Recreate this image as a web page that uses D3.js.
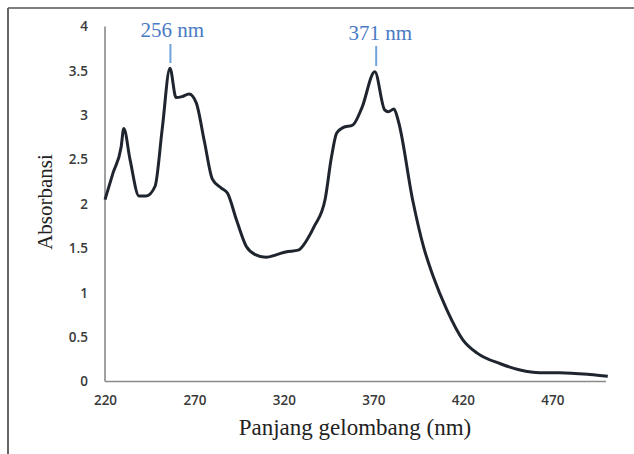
<!DOCTYPE html>
<html><head><meta charset="utf-8">
<script src="https://cdn.jsdelivr.net/npm/d3@7"></script>
<style>body{margin:0;background:#fff}svg{display:block}</style>
</head><body>
<svg id="c" width="634" height="454"></svg>
<script>
const wavelength = [220,224.5,229,230.5,234,239,243,248,252,256.3,259.7,263,267,271,275.5,280,285,288.5,293.5,299,304,310,316,321,328,333,337,343,346.5,349.5,353,358.5,363.5,370.8,376.3,378.3,381.5,384,392,398,403.5,411,420,428,441,452,463,474,491,501];
const absorbance = [2.05,2.35,2.64,2.85,2.5,2.09,2.09,2.2,2.85,3.53,3.2,3.21,3.24,3.14,2.71,2.28,2.18,2.12,1.82,1.52,1.43,1.40,1.43,1.46,1.48,1.6,1.75,2.05,2.52,2.8,2.86,2.89,3.08,3.49,3.06,3.04,3.07,2.93,2.04,1.52,1.18,0.81,0.47,0.32,0.2,0.13,0.10,0.10,0.08,0.06];
const xTicks = [220,270,320,370,420,470];
const yTicks = [0,0.5,1,1.5,2,2.5,3,3.5,4];
const peaks = [{nm:256, label:"256 nm"},{nm:371, label:"371 nm"}];

const svg = d3.select("#c");
const x = d3.scaleLinear().domain([220,500]).range([105,606]);
const y = d3.scaleLinear().domain([0,4]).range([381.5,26.5]);

// outer frame
svg.append("line").attr("x1",8).attr("x2",8).attr("y1",8).attr("y2",454).attr("stroke","#333").attr("stroke-width",1.5);
svg.append("line").attr("x1",8).attr("x2",634).attr("y1",8).attr("y2",8).attr("stroke","#555").attr("stroke-width",1.5);

// axes
const yAxis = d3.axisLeft(y).tickValues(yTicks).tickSize(0).tickPadding(17).tickFormat(d=>String(d));
const gy = svg.append("g").attr("transform",`translate(${x(220)},0)`).call(yAxis);
const xAxis = d3.axisBottom(x).tickValues(xTicks).tickSize(0).tickPadding(14).tickFormat(d=>String(d));
const gx = svg.append("g").attr("transform",`translate(0,${y(0)})`).call(xAxis);
[gx,gy].forEach(g=>{
  g.select(".domain").attr("stroke","#8a8a8a").attr("stroke-width",1.6);
  g.selectAll("text").attr("font-family","'Open Sans', sans-serif").attr("font-weight",600).attr("font-size",13.5).attr("fill","#3a3a3a");
});
gy.select(".domain").attr("d",`M0,${y(4)}V${y(0)}`);
gx.select(".domain").attr("d",`M${x(220)},0H${x(500)}`);

// curve
const line = d3.line().x((d,i)=>x(wavelength[i])).y(d=>y(d)).curve(d3.curveMonotoneX);
svg.append("path").attr("d",line(absorbance)).attr("fill","none").attr("stroke","#1f252e").attr("stroke-width",3).attr("stroke-linejoin","round");

// peak annotations
const pg = svg.selectAll(".peak").data(peaks).enter().append("g");
pg.append("line").attr("x1",d=>x(d.nm)+1).attr("x2",d=>x(d.nm)+1)
  .attr("y1",(d,i)=>i===0?44:46).attr("y2",(d,i)=>i===0?63:66)
  .attr("stroke","#6fa3dc").attr("stroke-width",2);
pg.append("text").attr("x",(d,i)=>x(d.nm)+(i===0?3:5)).attr("y",(d,i)=>i===0?37:40)
  .attr("text-anchor","middle").attr("font-family","'Liberation Serif', serif").attr("font-size",21)
  .attr("fill","#4a7bc4").text(d=>d.label);

// axis titles
svg.append("text").attr("transform","translate(52,202) rotate(-90)").attr("text-anchor","middle")
  .attr("font-family","'Liberation Serif', serif").attr("font-size",21).attr("fill","#222").text("Absorbansi");
svg.append("text").attr("x",355).attr("y",435).attr("text-anchor","middle")
  .attr("font-family","'Liberation Serif', serif").attr("font-size",23).attr("fill","#222").text("Panjang gelombang (nm)");
</script>
</body></html>
